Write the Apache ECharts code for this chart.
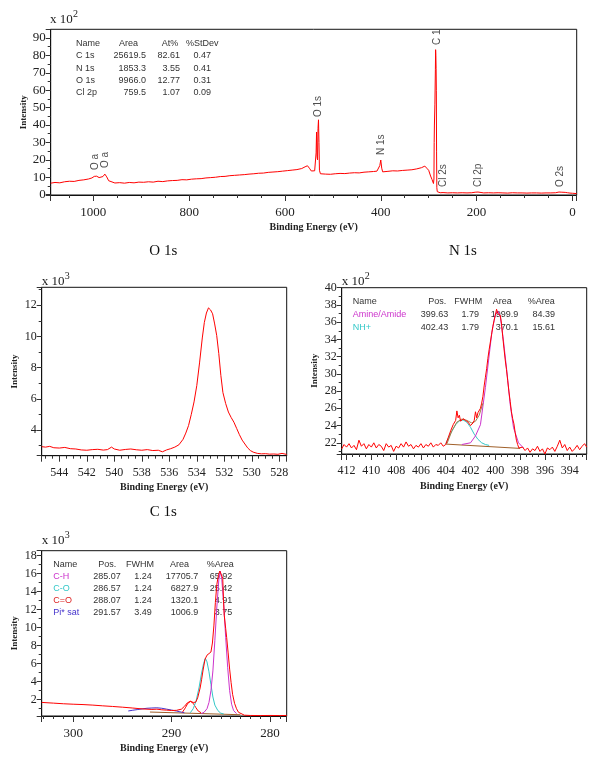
<!DOCTYPE html>
<html><head><meta charset="utf-8">
<script src="https://cdn.jsdelivr.net/npm/echarts@6/dist/echarts.min.js"></script>
<style>html,body{margin:0;padding:0;background:#fff}#c{width:600px;height:766px}</style>
</head><body><div id="c"></div>
<script>
// ---------------- DATA ----------------
// Survey spectrum (Binding energy eV, intensity x10^2)
const surveyBE = [1089,1080,1070,1060,1050,1040,1030,1020,1010,1003,998,993,988,984,980,976,972,968,964,955,945,935,925,915,905,895,885,875,865,855,845,835,825,815,805,795,785,775,765,755,745,735,725,715,705,695,685,675,665,655,645,635,625,615,605,595,585,575,565,558,553,549,545,541,538,535,534,533,532,531,530,529,528,526,522,515,505,495,485,475,465,455,445,435,425,415,408,404,402,400,398,396,392,385,375,365,355,345,335,325,315,308,304,300,296,293,290,289,288.5,288,287,286,285.5,285,284.5,284,283.5,283,282,280,276,270,260,250,240,230,220,210,203,200,197,193,185,175,165,155,145,135,125,115,105,95,85,75,65,55,45,35,28,25,22,19,15,10,5,0,-9];
const surveyInt = [6.6,7.0,6.8,7.4,7.7,7.6,8.2,8.5,9.0,9.6,10.5,10.6,9.8,9.1,10.4,11.8,10.2,8.0,7.1,6.7,6.9,6.6,7.0,6.8,7.2,7.1,7.4,7.2,7.7,7.5,7.9,8.1,8.2,8.6,8.5,8.9,9.1,9.2,9.6,9.8,10.0,10.4,10.5,10.9,11.1,11.3,11.5,11.8,12.0,12.3,12.4,12.8,13.0,13.2,13.5,13.8,14.1,14.4,15.0,16.0,16.6,15.2,13.6,13.0,13.7,24,36,22,20,38,43,30,14,12.0,11.6,11.8,11.7,12.0,12.2,12.1,12.4,12.6,12.5,12.9,13.1,13.3,13.5,14.4,16.7,19.9,15.2,13.1,13.0,13.4,13.7,13.6,13.9,14.1,14.3,14.8,15.5,16.4,15.2,14.0,10.7,8.7,6.4,9,30,40,52,72,83.3,80,72.6,60,25,4,1.7,1.4,1.1,1.2,1.0,1.1,1.0,1.1,1.0,1.1,1.4,1.9,1.5,1.1,1.0,1.1,1.0,1.1,1.0,0.9,1.1,1.0,1.0,0.9,1.0,1.0,0.9,1.0,1.0,1.1,1.5,1.6,1.4,1.7,1.3,1.1,0.9,0.8,0.6];
const annotText = ['O a','O a','O 1s','N 1s','C 1','Cl 2s','Cl 2p','O 2s'];
const annotBE   = [997,976,530,398,283,269,196,26];
const annotInt  = [14.2,15.3,44.6,22.8,86,4.4,4.4,4.4];
const surveyNames = ['C 1s','N 1s','O 1s','Cl 2p'];
const surveyArea  = ['25619.5','1853.3','9966.0','759.5'];
const surveyAt    = ['82.61','3.55','12.77','1.07'];
const surveyStd   = ['0.47','0.41','0.31','0.09'];

// O 1s (x10^3)
const o1sBE = [545.28,545.0,544.7,544.4,544.0,543.6,543.2,542.8,542.4,542.0,541.6,541.2,540.8,540.5,540.2,540.0,539.6,539.2,538.8,538.4,538.0,537.6,537.2,536.8,536.5,536.2,535.9,535.6,535.3,535.0,534.8,534.6,534.4,534.2,534.0,533.8,533.6,533.45,533.3,533.15,533.0,532.85,532.7,532.55,532.4,532.25,532.1,531.9,531.7,531.5,531.3,531.1,530.9,530.7,530.5,530.3,530.1,529.9,529.6,529.3,529.0,528.7,528.4,528.1,527.8,527.46];
const o1sInt = [2.93,2.90,2.95,2.86,2.84,2.88,2.80,2.78,2.72,2.70,2.74,2.76,2.71,2.74,2.90,2.78,2.70,2.75,2.78,2.73,2.70,2.74,2.68,2.70,2.60,2.72,2.80,2.90,3.05,3.40,3.80,4.28,5.0,5.8,6.85,8.3,9.9,10.9,11.5,11.83,11.7,11.45,10.8,10.05,8.9,7.5,6.4,5.7,5.15,4.8,4.5,4.1,3.7,3.35,3.1,2.85,2.68,2.58,2.50,2.47,2.48,2.45,2.46,2.44,2.50,2.43];

// N 1s (x10^2)
const n1sBE = [412.39,412.2,412.0,411.8,411.6,411.4,411.2,411.0,410.8,410.6,410.4,410.2,410.0,409.8,409.6,409.4,409.2,409.0,408.8,408.6,408.4,408.2,408.0,407.8,407.6,407.4,407.2,407.0,406.8,406.6,406.4,406.2,406.0,405.8,405.6,405.4,405.2,405.0,404.8,404.6,404.4,404.2,404.0,403.8,403.6,403.4,403.2,403.1,403.0,402.9,402.8,402.6,402.4,402.2,402.0,401.8,401.7,401.6,401.5,401.4,401.3,401.2,401.1,401.0,400.9,400.8,400.7,400.6,400.5,400.4,400.3,400.2,400.1,400.0,399.9,399.8,399.7,399.6,399.5,399.4,399.3,399.2,399.1,399.0,398.9,398.8,398.7,398.6,398.5,398.4,398.3,398.2,398.1,398.0,397.8,397.6,397.4,397.2,397.0,396.8,396.6,396.4,396.2,396.0,395.8,395.6,395.4,395.2,395.0,394.8,394.6,394.4,394.2,394.0,393.8,393.6,393.4,393.2,393.0,392.8,392.63];
const n1sInt = [21.3,21.8,21.5,21.9,21.4,21.7,21.2,22.3,21.6,21.9,21.3,21.8,21.5,22.0,21.4,21.8,21.6,21.1,21.9,21.5,21.7,21.0,21.6,21.4,21.9,21.5,22.1,21.6,21.8,21.3,21.7,21.5,21.9,21.4,21.8,21.6,22.0,21.5,21.8,21.7,22.0,21.6,21.8,22.6,23.4,24.1,24.6,25.7,24.9,25.2,24.5,24.8,24.6,24.4,24.0,24.3,24.6,25.6,24.9,25.5,25.3,26.0,26.6,27.4,28.6,29.6,30.6,31.8,32.8,33.7,34.6,35.5,36.2,36.8,37.5,37.0,37.2,36.8,35.8,34.3,32.9,31.6,30.5,29.2,27.9,26.8,25.6,24.8,24.2,23.2,22.3,21.8,21.4,21.3,21.5,21.1,21.4,20.9,21.3,21.1,21.6,21.0,21.3,20.7,21.4,21.2,21.5,21.0,21.6,22.3,21.4,21.8,21.1,21.5,21.0,21.3,21.7,21.2,21.6,21.9,21.5];
const n1sBgBE = [404.0,398.0];
const n1sBgInt = [21.85,21.35];
const nhBE  = [404.0,403.6,403.2,402.9,402.6,402.3,402.0,401.7,401.4,401.1,400.8,400.5];
const nhInt = [21.9,23.1,24.1,24.55,24.65,24.4,23.8,23.0,22.4,22.0,21.8,21.7];
const amBE  = [402.7,402.0,401.6,401.2,400.8,400.55,400.28,400.0,399.8,399.6,399.34,399.07,398.8,398.53,398.13,397.73];
const amInt = [21.8,22.0,22.8,24.1,28.4,31.5,34.8,36.9,37.3,36.7,33.8,30.3,26.45,23.74,22.0,21.4];
const n1sEnvBE  = [403.9,403.5,403.1,402.7,402.3,401.9,401.6,401.3,401.0];
const n1sEnvInt = [21.9,23.4,24.4,24.75,24.6,24.3,24.5,25.2,26.6];
const n1sNames = ['Amine/Amide','NH+'];
const n1sPos   = ['399.63','402.43'];
const n1sFwhm  = ['1.79','1.79'];
const n1sArea  = ['1999.9','370.1'];
const n1sPct   = ['84.39','15.61'];

// C 1s (x10^3)
const c1sBE = [303.2,302.0,301.0,300.0,299.0,298.0,297.0,296.0,295.0,294.0,293.0,292.0,291.5,291.0,290.5,290.0,289.5,289.0,288.7,288.4,288.1,287.8,287.55,287.35,287.1,286.95,286.8,286.6,286.4,286.2,286.0,285.85,285.7,285.55,285.4,285.25,285.1,285.0,284.9,284.8,284.72,284.65,284.5,284.4,284.25,284.1,283.95,283.8,283.6,283.4,283.2,283.0,282.6,282.0,281.0,280.0,279.0,278.3];
const c1sInt = [1.70,1.62,1.55,1.50,1.46,1.40,1.32,1.25,1.17,1.08,0.98,0.92,0.95,0.88,0.84,0.80,0.82,0.95,1.25,1.65,1.82,1.70,1.72,2.2,3.3,4.22,5.3,6.5,6.95,7.1,7.3,8.3,10.2,12.8,14.8,15.8,16.3,16.4,16.1,15.5,13.0,11.4,9.9,8.9,7.2,5.4,3.9,2.6,1.6,1.0,0.6,0.42,0.28,0.25,0.24,0.25,0.24,0.25];
const c1sBgBE = [292.2,283.0];
const c1sBgInt = [0.63,0.33];
const piBE  = [294.4,294.0,293.5,293.0,292.5,292.0,291.5,291.0,290.5,290.0,289.5,289.0,288.7];
const piInt = [0.75,0.82,0.90,0.98,1.05,1.08,1.10,1.05,0.95,0.85,0.74,0.62,0.55];
const coBE  = [288.9,288.6,288.35,288.07,287.8,287.55,287.3,287.0];
const coInt = [0.60,1.10,1.60,1.82,1.60,1.15,0.75,0.55];
const cOBE  = [288.1,287.8,287.5,287.2,286.95,286.75,286.57,286.4,286.2,286.0,285.8,285.6,285.3,285.0,284.7];
const cOInt = [0.55,1.0,1.9,3.4,4.96,6.0,6.6,6.2,5.1,3.7,2.3,1.4,0.8,0.5,0.42];
const chBE  = [287.0,286.7,286.4,286.2,286.0,285.8,285.6,285.4,285.2,285.05,284.9,284.7,284.5,284.3,284.1,283.9,283.7,283.4];
const chInt = [0.45,0.6,1.0,1.7,3.0,5.2,8.6,12.3,15.3,16.3,15.4,12.6,8.9,5.6,3.0,1.5,0.8,0.45];
const c1sNames = ['C-H','C-O','C=O','Pi* sat'];
const c1sPos   = ['285.07','286.57','288.07','291.57'];
const c1sFwhm  = ['1.24','1.24','1.24','3.49'];
const c1sArea  = ['17705.7','6827.9','1320.1','1006.9'];
const c1sPct   = ['65.92','25.42','4.91','3.75'];

// ---------------- CHART ----------------
const SERIF = '"Liberation Serif","Times New Roman",serif';
const SANS = '"Liberation Sans",Arial,sans-serif';
const RED = '#ff0000', MAG = '#cc33cc', CYAN = '#33c8c8', BROWN = '#a0602a', BLUE = '#4433cc', OLIVE = '#a08048';

const zip = (a, b) => a.map((v, i) => [v, b[i]]);
const plain = v => String(Math.round(v * 100) / 100);

function xAx(gi, min, max, minor, fs) {
  return {type:'value', gridIndex:gi, inverse:true, min, max,
    splitNumber: gi===0 ? 6 : (gi===3 ? 3 : (gi===1 ? 8 : 10)),
    name:'Binding Energy (eV)', nameLocation:'middle', nameGap:27, nameMoveOverlap:false,
    nameTextStyle:{fontFamily:SERIF, fontSize:10, fontWeight:'bold', color:'#222'},
    axisLine:{show:true, onZero:false, lineStyle:{color:'#111', width:1}},
    axisTick:{show:true, inside:false, length:6, lineStyle:{color:'#333'}},
    minorTick:{show:true, splitNumber:minor, length:3, lineStyle:{color:'#333'}},
    axisLabel:{show:true, margin:11, fontFamily:SERIF, fontSize:fs, color:'#222', formatter:plain, showMinLabel:false, showMaxLabel:false},
    splitLine:{show:false}, minorSplitLine:{show:false}};
}
function yAx(gi, min, max, split, fs, showMax) {
  return {type:'value', gridIndex:gi, min, max, splitNumber:split,
    name:'Intensity', nameLocation:'middle', nameGap:23, nameRotate:90, nameMoveOverlap:false,
    nameTextStyle:{fontFamily:SERIF, fontSize:9, fontWeight:'bold', color:'#222'},
    axisLine:{show:true, onZero:false, lineStyle:{color:'#111', width:1}},
    axisTick:{show:true, inside:false, length:5, lineStyle:{color:'#333'}},
    minorTick:{show:true, splitNumber:2, length:3, lineStyle:{color:'#333'}},
    axisLabel:{show:true, margin:5, fontFamily:SERIF, fontSize:fs, color:'#222', formatter:plain, padding:[0,0,6,0], showMinLabel:false, showMaxLabel:showMax},
    splitLine:{show:false}, minorSplitLine:{show:false}};
}
function line(i, BE, I, color, z) {
  return {type:'line', xAxisIndex:i, yAxisIndex:i, data:zip(BE, I), symbol:'none', showSymbol:false,
    lineStyle:{color, width:1}, itemStyle:{color}, z, silent:true, animation:false};
}
function txt(x, y, text, opt) {
  opt = opt || {};
  return {type:'text', x, y, z:opt.z||1, silent:true,
    style:{text, fill:opt.fill||'#333', font:opt.font||('9px '+SANS),
      align:opt.align||'left', verticalAlign:opt.va||'middle', textAlign:opt.align||'left', textVerticalAlign:opt.va||'middle'}};
}

const graphics = [];
// Titles
graphics.push(txt(163.3, 251, 'O 1s', {font:'15px '+SERIF, align:'center', fill:'#111'}));
graphics.push(txt(463, 251, 'N 1s', {font:'15px '+SERIF, align:'center', fill:'#111'}));
graphics.push(txt(163.3, 512, 'C 1s', {font:'15px '+SERIF, align:'center', fill:'#111'}));
// Multipliers
function mult(x, yb, exp) {
  graphics.push(txt(x, yb, 'x 10', {font:'13px '+SERIF, va:'bottom', fill:'#222'}));
  graphics.push(txt(x + 23, yb - 7, exp, {font:'10px '+SERIF, va:'bottom', fill:'#222'}));
}
mult(50, 26.5, '2');
mult(41.7, 288, '3');
mult(341.7, 288, '2');
mult(41.7, 547.5, '3');

// Survey table
const sY = [43.3, 55.8, 68.1, 80.4, 92.7];
graphics.push(txt(76, sY[0], 'Name'), txt(119, sY[0], 'Area'), txt(161.7, sY[0], 'At%'), txt(186, sY[0], '%StDev'));
surveyNames.forEach((n, i) => {
  const y = sY[i + 1];
  graphics.push(txt(76, y, n), txt(146, y, surveyArea[i], {align:'right'}), txt(180, y, surveyAt[i], {align:'right'}), txt(211, y, surveyStd[i], {align:'right'}));
});
// N1s table
const nY = [301.7, 314.8, 327.3];
const nCol = [MAG, CYAN];
graphics.push(txt(352.7, nY[0], 'Name'), txt(428.3, nY[0], 'Pos.'), txt(454.3, nY[0], 'FWHM'), txt(492.7, nY[0], 'Area'), txt(527.7, nY[0], '%Area'));
n1sNames.forEach((n, i) => {
  const y = nY[i + 1];
  graphics.push(txt(352.7, y, n, {fill:nCol[i]}), txt(448.3, y, n1sPos[i], {align:'right'}), txt(479, y, n1sFwhm[i], {align:'right'}), txt(518.3, y, n1sArea[i], {align:'right'}), txt(555, y, n1sPct[i], {align:'right'}));
});
// C1s table
const cY = [564.3, 576.5, 588.5, 600.6, 612.7];
const cCol = [MAG, CYAN, '#dd2222', BLUE];
graphics.push(txt(53.3, cY[0], 'Name'), txt(98.3, cY[0], 'Pos.'), txt(126, cY[0], 'FWHM'), txt(170, cY[0], 'Area'), txt(206.7, cY[0], '%Area'));
c1sNames.forEach((n, i) => {
  const y = cY[i + 1];
  graphics.push(txt(53.3, y, n, {fill:cCol[i]}), txt(120.7, y, c1sPos[i], {align:'right'}), txt(151.7, y, c1sFwhm[i], {align:'right'}), txt(198.3, y, c1sArea[i], {align:'right'}), txt(232.3, y, c1sPct[i], {align:'right'}));
});

const option = {
  animation:false,
  backgroundColor:'#fff',
  grid:[
    {left:50.7, top:29.3, width:526, height:165.7, show:true, borderColor:'#111', borderWidth:1, containLabel:false, outerBoundsMode:'none'},
    {left:41.7, top:287.3, width:245, height:168.4, show:true, borderColor:'#111', borderWidth:1, containLabel:false, outerBoundsMode:'none'},
    {left:341.7, top:287.7, width:245, height:166.3, show:true, borderColor:'#111', borderWidth:1, containLabel:false, outerBoundsMode:'none'},
    {left:41.7, top:550.7, width:245, height:165.3, show:true, borderColor:'#111', borderWidth:1, containLabel:false, outerBoundsMode:'none'}
  ],
  xAxis:[xAx(0, -9, 1089, 4, 13), xAx(1, 527.46, 545.28, 4, 12), xAx(2, 392.63, 412.39, 4, 12), xAx(3, 278.3, 303.2, 10, 13)],
  yAxis:[yAx(0, -0.2, 95, 10, 13, false), yAx(1, 2.35, 13.15, 5, 12, false), yAx(2, 20.7, 40, 9, 12, true), yAx(3, 0.19, 18.56, 9, 12, false)],
  series:[
    line(0, surveyBE, surveyInt, RED, 3),
    {type:'scatter', xAxisIndex:0, yAxisIndex:0, symbolSize:0, silent:true, z:4,
      data: annotText.map((t, i) => ({name:t, value:[annotBE[i], annotInt[i]]})),
      label:{show:true, formatter:'{b}', rotate:90, position:'inside', align:'left', verticalAlign:'middle', fontFamily:SANS, fontSize:10, color:'#222'}},
    line(1, o1sBE, o1sInt, RED, 3),
    line(2, n1sBgBE, n1sBgInt, BROWN, 2),
    line(2, nhBE, nhInt, CYAN, 2),
    line(2, amBE, amInt, MAG, 2),
    line(2, n1sEnvBE, n1sEnvInt, OLIVE, 2),
    line(2, n1sBE, n1sInt, RED, 3),
    line(3, c1sBgBE, c1sBgInt, BROWN, 2),
    line(3, piBE, piInt, BLUE, 2),
    line(3, coBE, coInt, RED, 2),
    line(3, cOBE, cOInt, CYAN, 2),
    line(3, chBE, chInt, MAG, 2),
    line(3, c1sBE, c1sInt, RED, 3)
  ],
  graphic: graphics
};
const chart = echarts.init(document.getElementById('c'), null, {renderer:'canvas'});
chart.setOption(option);
</script></body></html>
